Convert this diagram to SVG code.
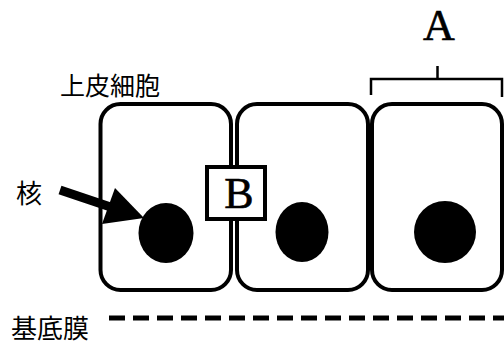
<svg xmlns="http://www.w3.org/2000/svg" width="504" height="347" viewBox="0 0 504 347">
  <style>
    .cell { fill: none; stroke: #000; stroke-width: 4; }
    .nucleus { fill: #000; }
    .jp { font-family: "Noto Sans CJK JP", "Noto Sans CJK SC", sans-serif; fill: #000; }
    .latin { font-family: "Liberation Serif", serif; fill: #000; stroke: #000; stroke-width: 0.6; }
    .line { fill: none; stroke: #000; }
  </style>
  <rect width="504" height="347" fill="#fff"/>

  <!-- epithelial cells -->
  <g id="cell1">
    <rect class="cell" x="100.5" y="104" width="130.5" height="186" rx="20" ry="20"/>
    <ellipse class="nucleus" cx="166" cy="233" rx="27.5" ry="30"/>
  </g>
  <g id="cell2">
    <rect class="cell" x="237" y="104" width="131" height="186" rx="20" ry="20"/>
    <ellipse class="nucleus" cx="302" cy="232" rx="26.5" ry="30"/>
  </g>
  <g id="cell3">
    <rect class="cell" x="372" y="104" width="130" height="186" rx="20" ry="20"/>
    <ellipse class="nucleus" cx="445" cy="232" rx="31" ry="31"/>
  </g>

  <!-- junction label box -->
  <g id="labelB">
    <rect x="207" y="167" width="58" height="52" fill="#fff" stroke="#000" stroke-width="4"/>
    <text class="latin" x="239" y="208" font-size="44" text-anchor="middle">B</text>
  </g>

  <!-- letter above the bracket -->
  <g id="labelA">
    <text class="latin" x="439" y="40" font-size="44" text-anchor="middle">A</text>
  </g>

  <g id="labels">
    <text class="jp" x="60" y="95" font-size="25">上皮細胞</text>
    <text class="jp" x="16" y="203" font-size="26">核</text>
    <text class="jp" x="11" y="338" font-size="26">基底膜</text>
  </g>

  <g id="connectors">
    <!-- bracket -->
    <path class="line" stroke-width="2.5" d="M371 95 V79 H502 V97 M437.5 79 V66"/>
    <!-- arrow to nucleus -->
    <line class="line" x1="60" y1="190" x2="112" y2="207.5" stroke-width="9"/>
    <polygon fill="#000" points="115,188 102,224 144,218"/>
    <!-- basement membrane -->
    <line class="line" x1="109" y1="318" x2="504" y2="318" stroke-width="5" stroke-dasharray="16 8"/>
  </g>
</svg>
